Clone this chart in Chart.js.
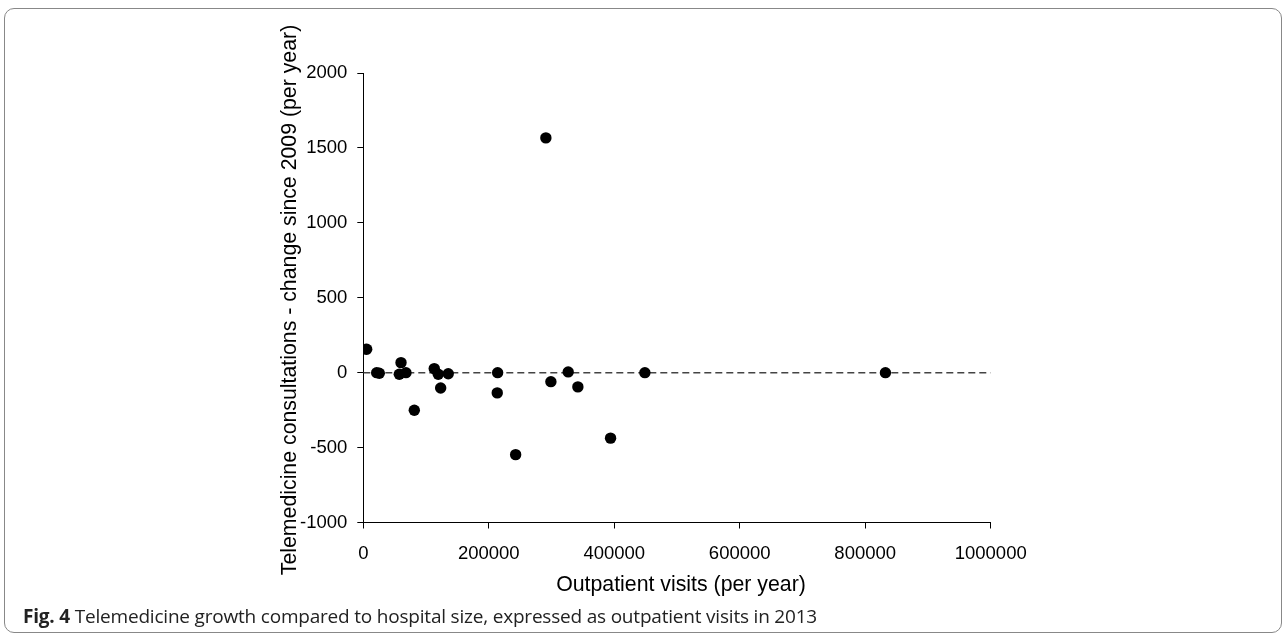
<!DOCTYPE html>
<html>
<head>
<meta charset="utf-8">
<script src="https://cdn.jsdelivr.net/npm/chart.js@4/dist/chart.umd.min.js"></script>
<style>
  html, body { margin: 0; padding: 0; background: #fff; }
  body { width: 1284px; height: 636px; position: relative; overflow: hidden; }
  #frame { position: absolute; left: 4px; top: 8px; width: 1278px; height: 625px;
           border: 1.5px solid #888; border-radius: 10px; box-sizing: border-box; }
  #wrap { position: absolute; left: 0; top: 0; width: 1284px; height: 636px; }
  #caption { position: absolute; left: 23px; top: 603px; font-family: "Open Sans", sans-serif;
             font-size: 19px; color: #222; white-space: nowrap; letter-spacing: -0.2px; }
  #caption b { font-weight: 700; }
</style>
</head>
<body>
<div id="frame"></div>
<div id="wrap"><canvas id="c" width="1284" height="636"></canvas></div>
<div id="caption"><b>Fig. 4</b> Telemedicine growth compared to hospital size, expressed as outpatient visits in 2013</div>
<script>
// Data
const outpatientVisits = [5400, 21300, 25500, 57400, 60100, 68000, 81300, 113100, 119500, 123300, 135400, 213500, 214100, 242800, 291000, 299000, 326600, 342000, 394100, 448800, 832200];
const consultationChange = [156, 0, -4, -11, 67, 0, -251, 27, -11, -102, -7, -135, 0, -547, 1567, -60, 5, -95, -437, 0, 0];
const referenceLineX = [0, 1000000];
const referenceLineY = [0, 0];
const xTickValues = [0, 200000, 400000, 600000, 800000, 1000000];
const xTickLabels = ["0", "200000", "400000", "600000", "800000", "1000000"];
const yTickValues = [-1000, -500, 0, 500, 1000, 1500, 2000];
const yTickLabels = ["-1000", "-500", "0", "500", "1000", "1500", "2000"];
const xTitle = "Outpatient visits (per year)";
const yTitle = "Telemedicine consultations - change since 2009 (per year)";

const points = outpatientVisits.map((x, i) => ({ x: x, y: consultationChange[i] }));
const refLine = referenceLineX.map((x, i) => ({ x: x, y: referenceLineY[i] }));

const tickFont = { family: "'Liberation Sans', Arial, sans-serif", size: 18.5 };

const titlePlugin = {
  id: 'axisTitles',
  afterDraw(chart) {
    const ctx = chart.ctx;
    const a = chart.chartArea;
    ctx.save();
    ctx.fillStyle = '#000';
    ctx.font = "21.3px 'Liberation Sans', Arial, sans-serif";
    ctx.textAlign = 'center';
    ctx.textBaseline = 'middle';
    ctx.fillText(xTitle, 681, 585);
    ctx.translate(290, 300);
    ctx.rotate(-Math.PI / 2);
    ctx.fillText(yTitle, 0, 0);
    ctx.restore();
  }
};

new Chart(document.getElementById('c'), {
  type: 'scatter',
  data: {
    datasets: [
      {
        type: 'line',
        data: refLine,
        borderColor: '#444',
        borderWidth: 1.5,
        borderDash: [7, 4],
        pointRadius: 0,
        fill: false,
        order: 2
      },
      {
        data: points,
        backgroundColor: '#000',
        borderColor: '#000',
        borderWidth: 0,
        pointRadius: 5.7,
        order: 1
      }
    ]
  },
  options: {
    responsive: false,
    animation: false,
    events: [],
    layout: { padding: { left: 0, top: 73, right: 293.3, bottom: 0 } },
    plugins: { legend: { display: false }, tooltip: { enabled: false } },
    scales: {
      x: {
        type: 'linear',
        min: 0, max: 1000000,
        afterBuildTicks(scale) { scale.ticks = xTickValues.map(v => ({ value: v })); },
        afterFit(scale) { scale.height = 636 - 522.5; },
        ticks: {
          font: tickFont, color: '#000', padding: 14, maxRotation: 0, autoSkip: false,
          callback: (v) => xTickLabels[xTickValues.indexOf(v)]
        },
        grid: { drawOnChartArea: false, drawTicks: true, tickLength: 6, color: '#000', lineWidth: 1 },
        border: { display: true, color: '#000', width: 1 }
      },
      y: {
        type: 'linear',
        min: -1000, max: 2000,
        afterBuildTicks(scale) { scale.ticks = yTickValues.map(v => ({ value: v })); },
        afterFit(scale) { scale.width = 363.3; },
        ticks: {
          font: tickFont, color: '#000', padding: 10, autoSkip: false,
          callback: (v) => yTickLabels[yTickValues.indexOf(v)]
        },
        grid: { drawOnChartArea: false, drawTicks: true, tickLength: 6, color: '#000', lineWidth: 1 },
        border: { display: true, color: '#000', width: 1 }
      }
    }
  },
  plugins: [titlePlugin]
});
</script>
</body>
</html>
